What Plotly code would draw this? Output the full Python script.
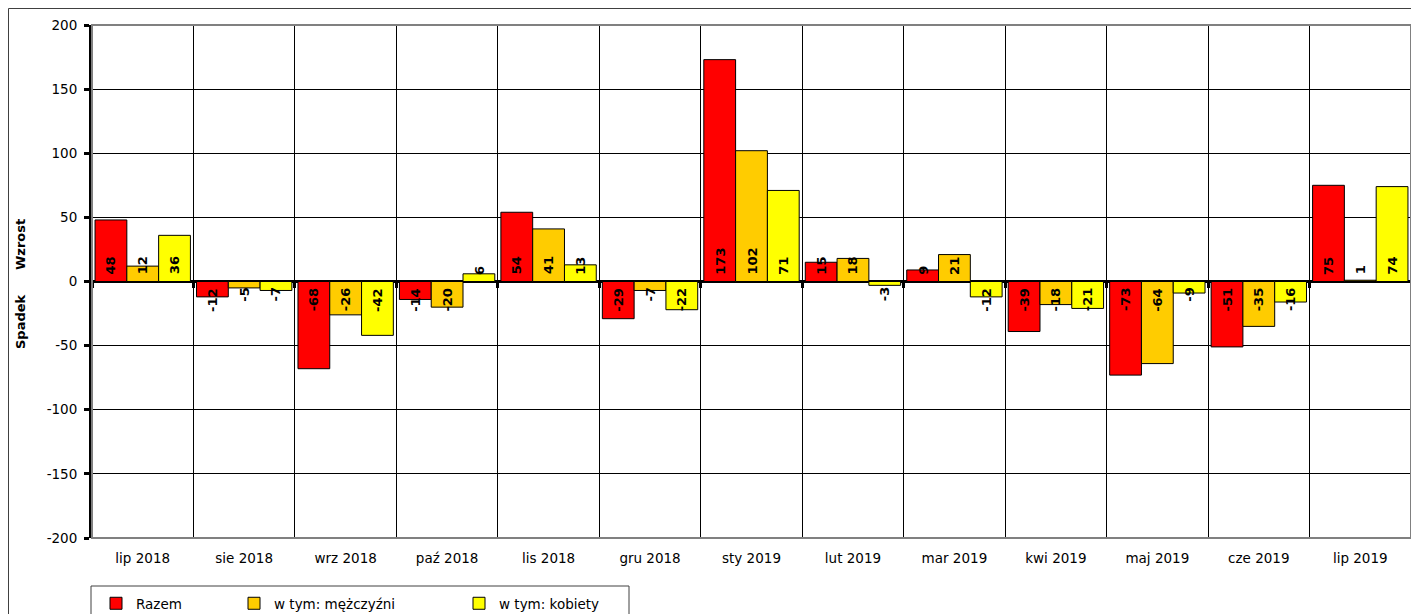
import plotly.graph_objects as go

months = ["lip 2018", "sie 2018", "wrz 2018", "paź 2018", "lis 2018", "gru 2018",
          "sty 2019", "lut 2019", "mar 2019", "kwi 2019", "maj 2019", "cze 2019", "lip 2019"]
razem = [48, -12, -68, -14, 54, -29, 173, 15, 9, -39, -73, -51, 75]
mezczyzni = [12, -5, -26, -20, 41, -7, 102, 18, 21, -18, -64, -35, 1]
kobiety = [36, -7, -42, 6, 13, -22, 71, -3, -12, -21, -9, -16, 74]
series_names = ["Razem", "w tym: mężczyźni", "w tym: kobiety"]
series_colors = ["#FF0000", "#FFCC00", "#FFFF00"]
y_ticks = [-200, -150, -100, -50, 0, 50, 100, 150, 200]
y_ticktext = ["-200", "-150", "-100", "-50", "0", "50", "100", "150", "200"]

FONT = "DejaVu Sans"
OFF = 8  # page body margin
W, H = 1419, 614
# plot area in screen pixels: x 92..1411, y 25..538
L = 92 - OFF
T = 25 - OFF
R = W - (1411 - OFF)
B = H - (538 - OFF)
pw, ph = W - L - R, H - T - B

def px_x(p):
    return (p - OFF - L) / pw

def px_y(p):
    return (H - B - (p - OFF)) / ph

bargap = 0.06
nser = 3
bw = (1 - bargap) / nser

fig = go.Figure()
legends = ["legend", "legend2", "legend3"]
all_series = [razem, mezczyzni, kobiety]
for k, (name, vals, col) in enumerate(zip(series_names, all_series, series_colors)):
    fig.add_trace(go.Bar(
        x=months, y=vals, name=name,
        marker=dict(color=col, line=dict(color="#000000", width=1)),
        legend=legends[k], showlegend=True, hoverinfo="x+y+name",
    ))

# dummy trace on second x axis (zero-line category axis with tick marks)
fig.add_trace(go.Scatter(x=months, y=[None] * len(months), xaxis="x2",
                         showlegend=False, hoverinfo="skip", mode="markers"))

annotations = []
for k, vals in enumerate(all_series):
    off = (k - (nser - 1) / 2) * bw
    for i, v in enumerate(vals):
        annotations.append(dict(
            x=i + off, y=0, xref="x", yref="y", text=f"<b>{v}</b>",
            showarrow=False, textangle=-90,
            xanchor="center", yanchor="bottom" if v >= 0 else "top",
            yshift=5 if v >= 0 else -4,
            font=dict(family=FONT, size=13, color="#000000"),
        ))

annotations.append(dict(x=px_x(20), y=px_y(245), xref="paper", yref="paper",
                        xanchor="center", yanchor="middle",
                        text="<b>Wzrost</b>", showarrow=False, textangle=-90,
                        font=dict(family=FONT, size=13, color="#000000")))
annotations.append(dict(x=px_x(20), y=px_y(322), xref="paper", yref="paper",
                        xanchor="center", yanchor="middle",
                        text="<b>Spadek</b>", showarrow=False, textangle=-90,
                        font=dict(family=FONT, size=13, color="#000000")))

shapes = [
    # outer chart border
    dict(type="rect", xref="paper", yref="paper", x0=px_x(8.5), y0=px_y(640),
         x1=px_x(1440), y1=px_y(8.5), line=dict(color="#404040", width=1),
         fillcolor="rgba(0,0,0,0)", layer="below"),
    # legend box
    dict(type="rect", xref="paper", yref="paper", x0=px_x(91), y0=px_y(640),
         x1=px_x(629), y1=px_y(586), line=dict(color="#404040", width=1),
         fillcolor="rgba(0,0,0,0)", layer="below"),
    # plot area border
    dict(type="rect", xref="paper", yref="paper", x0=0, y0=0, x1=1, y1=1,
         line=dict(color="#808080", width=2), fillcolor="rgba(0,0,0,0)", layer="above"),
]

fig.update_layout(
    width=W, height=H,
    margin=dict(l=L, r=R, t=T, b=B, autoexpand=False),
    paper_bgcolor="white", plot_bgcolor="white",
    barmode="group", bargap=bargap, bargroupgap=0,
    font=dict(family=FONT, size=13.5, color="#000000"),
    annotations=annotations, shapes=shapes,
    xaxis=dict(type="category", tickson="boundaries", showgrid=True,
               gridcolor="#000000", gridwidth=1, ticks="", showline=False,
               automargin=False, ticklabelstandoff=10,
               tickfont=dict(family=FONT, size=13.5, color="#000000"),
               range=[-0.5, len(months) - 0.5]),
    xaxis2=dict(type="category", matches="x", overlaying="x", anchor="free",
                position=0.5, tickson="boundaries", ticks="outside", ticklen=5,
                tickwidth=3, tickcolor="#000000", showticklabels=False,
                automargin=False, showgrid=False, showline=False, side="bottom"),
    yaxis=dict(range=[-200, 200], tickvals=y_ticks, ticktext=y_ticktext, showgrid=True,
               gridcolor="#000000", gridwidth=1, zeroline=True,
               zerolinecolor="#000000", zerolinewidth=3,
               showline=True, linecolor="#000000", linewidth=3,
               ticks="outside", ticklen=5, tickwidth=3, tickcolor="#000000",
               ticklabelstandoff=4, automargin=False,
               tickfont=dict(family=FONT, size=13.5, color="#000000")),
)

leg_x = [96, 234, 459]  # screen pixels
for k, lg in enumerate(legends):
    fig.update_layout({lg: dict(x=(leg_x[k] - OFF) / W, y=(H - (588 - OFF)) / H,
                                xref="container", yref="container",
                                xanchor="left", yanchor="top",
                                orientation="h", bgcolor="rgba(0,0,0,0)", borderwidth=0,
                                font=dict(family=FONT, size=13.5, color="#000000"))})

fig.write_html("out.html")
